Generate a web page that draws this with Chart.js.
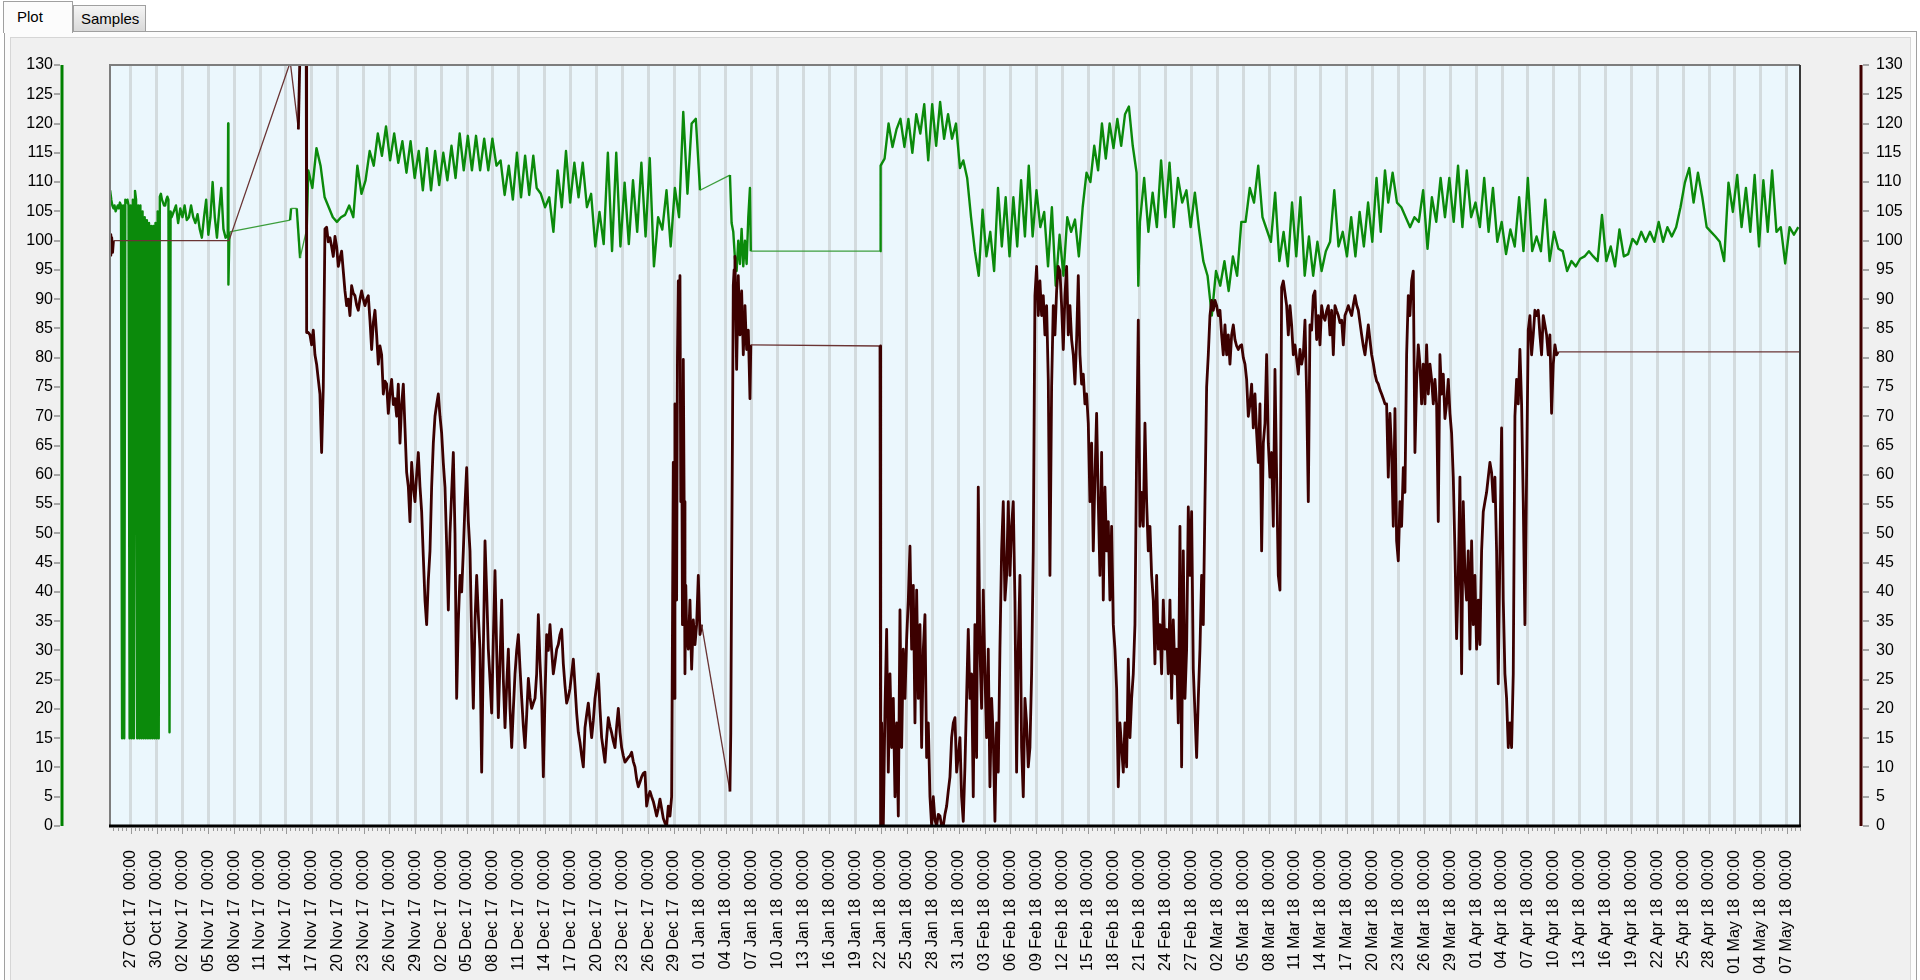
<!DOCTYPE html>
<html>
<head>
<meta charset="utf-8">
<title>Plot</title>
<script src="https://cdn.jsdelivr.net/npm/chart.js@4.4.1/dist/chart.umd.min.js"></script>
<style>
  html, body { margin: 0; padding: 0; }
  body { width: 1920px; height: 980px; overflow: hidden; position: relative; background: #fff;
         font-family: "Liberation Sans", Arial, sans-serif; }
  .page { position: absolute; left: 4px; top: 31px; width: 1913px; height: 960px; background: #fcfcfc;
          border: 1px solid #a0a0a0; box-sizing: border-box; }
  .group { position: absolute; left: 10px; top: 37px; width: 1901px; height: 950px; background: #f0f0f0;
           border: 1px solid #d6d6d6; box-sizing: border-box; }
  .tab { position: absolute; box-sizing: border-box; border: 1px solid #a0a0a0; border-bottom: none;
         font-size: 15px; color: #000; }
  .tab.on { left: 3px; top: 1px; width: 70px; height: 32px; background: #fcfcfc; padding: 6px 0 0 13px; z-index: 2; }
  .tab.off { left: 73px; top: 5px; width: 73px; height: 26px; padding: 4px 0 0 7px;
             background: linear-gradient(#f5f5f5, #d9d9d9); }
  #chart { position: absolute; left: 0; top: 0; z-index: 3; }
</style>
</head>
<body>
<div class="page"></div>
<div class="group"></div>
<div class="tab on">Plot</div>
<div class="tab off">Samples</div>
<canvas id="chart" width="1920" height="980"></canvas>

<script>
// x axis is in days counted from 27 Oct 17 00:00, labelled every 3 days
const tickLabels = ['27 Oct 17','30 Oct 17','02 Nov 17','05 Nov 17','08 Nov 17','11 Nov 17','14 Nov 17',
  '17 Nov 17','20 Nov 17','23 Nov 17','26 Nov 17','29 Nov 17','02 Dec 17','05 Dec 17','08 Dec 17','11 Dec 17',
  '14 Dec 17','17 Dec 17','20 Dec 17','23 Dec 17','26 Dec 17','29 Dec 17','01 Jan 18','04 Jan 18','07 Jan 18',
  '10 Jan 18','13 Jan 18','16 Jan 18','19 Jan 18','22 Jan 18','25 Jan 18','28 Jan 18','31 Jan 18','03 Feb 18',
  '06 Feb 18','09 Feb 18','12 Feb 18','15 Feb 18','18 Feb 18','21 Feb 18','24 Feb 18','27 Feb 18','02 Mar 18',
  '05 Mar 18','08 Mar 18','11 Mar 18','14 Mar 18','17 Mar 18','20 Mar 18','23 Mar 18','26 Mar 18','29 Mar 18',
  '01 Apr 18','04 Apr 18','07 Apr 18','10 Apr 18','13 Apr 18','16 Apr 18','19 Apr 18','22 Apr 18','25 Apr 18',
  '28 Apr 18','01 May 18','04 May 18','07 May 18'];
const tickTime = '00:00';
const tickEvery = 3;
const dayMin = -2.4, dayMax = 193.55;
const valueTicks = [0, 130, 5]; // min, max, step (both value axes)

// green trace (left axis). runs: values spread evenly from first day to last day
const greenA = [108,108.5,107,106,105.5,106,105,105.5,106,105.5,106.5,106,15,106,15,107,106.5,107,106,15,106,15,
  107,15,108.5,107,15,106,15,106,15,105,15,104,15,103.5,15,103,15,102.5,15,102.5,15,103,15,105,15,107.5,108,107,
  106.5,106,106,107,107.5,107,16,105,104,104.5,105];
const greenB = [106,103,105.5,104,106,103.5,104,106,104,103,104.5,102,100.5,104,107,101,104,110,104,100.5,105,109,
  102,100.5,101];
const greenJoin1 = [[11.3,120],[11.33,92.5],[11.45,101.5],[18.48,103.5],[18.6,105.5],[19.25,105.5],[19.64,97],[20.41,102]];
const greenC = [112,109,115.8,112.8,107.4,105.7,104,103.2,104,104.4,106,104,112.8,108,110.3,115.3,112.8,118.3,114.5,
  119.5,113.7,118.3,113.3,117,111.6,117,110.7,115.3,108.6,115.8,108.6,115.3,109.5,115,110.3,116.2,110.7,118.3,112,
  117.9,112,117.9,112,117.4,112,117.4,112.8,113.7,107.8,112.8,107,115,107.4,114.5,107.8,114.5];
const greenD = [109,108,105.7,107.4,101.5,112,105.7,115.3,106.5,113.3,107.4,113.3,105.7,108,99,104.9,99.4,115,98.2,
  115,99,109.9,99.4,110.3,101.5,113.3,100.7,114.1,95.6,104,101.9,108.6,99,109,104,122,108,120,120.8,108.6];
const greenE = [111.2,103,101.5,97,94.8,100,96,102,95.6,100,96,104,109];
const greenJoin2 = [[71.9,98.2],[86.88,98.2]];
const greenF = [112.8,114,120,116,119,120.8,116,120.8,115,121.6,118.3,123.3,113.7,123.3,116.2,123.7,117.4,121.6,
  117.4,120,112.4];
const greenG = [113.7,110.7,104,98.2,94,105.3,97.3,101.5,94.8,109,99,107.4,97.3,107.4,99,110.3,100.7,112.8,100.7,
  108.6,102.3,104.9,95.6,105.7,92.3,101,94,104,101.5,103.6,97.3,105.7,111.6,110,116.2,112,120,114,120,115.8,120.8,
  116.2,121.6,122.9,116.2,111.6];
const greenJoin3 = [[116.83,92.3]];
const greenH = [103.2,110.7,101.5,108.2,102.3,113.7,104,113.3,102.3,110.7,106.5,108.6,102.3,108.2,101.9,96.5,94,
  87.2,94.8,92.3,96.5,91.4,97.3,94,103.2,103.2,109,106.5,112.8,104,101.9,99.8,108.2,96.5,101.5,95.6,106.5,97.3,
  107.4,94,100.7,94,99.8,94.8,98.2,99.8,108.6,99,101.5,97.3,104,97.3,104.9,99,106.5,99.8,110.7,101.5,112];
const greenI = [106.5,111.6,106.5,105.7,104,102.3,104,103.2,108.6,98.6,107.4,103.2,110.7,104,110.7,103.2,112.8,
  102.3,112,104,106.5,102.3,110.7,101.5,109,99.8,103.2,97.7,101.9,99,107.4,98.2,110.7,98.2,100.7,98.2,107,96.5,
  101.5,98.6,98.2,94.8,96.5,95.6,96.9,97.3,98.2,97.3,96.5,104.4,96.5,99,95.6,101.9,97.3,97.7,100.3,99.4,101.5,99.8,
  101.5,99.8,103.2,99.8,102.3,100.7,102.3,105.7,109.9,112.4,106.5,111.6,107.4,102.3,101.5,100.7,99.8,96.5,109.9,
  104.9,111.2,102.3,109,101.5,111.2,99,110.3,101.5,112,101.5,102.3,96.1,102.3,101,102.3];

// maroon trace (right axis)
const maroonJoin0 = [[-2.4,101],[-2.3,97.5],[-2.2,100.5],[-2.1,98],[-2.0,100],[11.4,100],[18.5,130.5],[19.44,119],
  [19.68,136],[20.35,136],[20.4,84.3]];
const maroonA = [84.3,83.9,82.2,84.7,80.5,78.9,76.3,73.8,63.8,75, 102,102.3,99.8,100.5,99,97.3,100.7,99,95.6,97,
  98.2,94.8,91.4,88.9,90,87.2,92.3,91,90.6,89, 88.1,90,91.4,90,88.9,90,90.6,86.4,81.4,86,
  88.1,83.9,78.9,82,80.5,73.8,76,75.5,70.5,74, 76.3,72,73,70,75.5,65.4,72,75.5,68,60.4,
  58,52,62.1,58,55.4,60,63.8,58,53.7,46, 38.6,34.4,42,47,58,65.4,70,72,73.8,70,
  67.1,62,57.9,48,36.9,50,57,63.8,50,21.8, 35,42.8,40,47,55,61.2,52,47,32,20.1,
  35,42.8,36,30.2,9.2,30,48.7,40,30.2,25, 19.3,32,43.6,30,18.5,28,38.6,25,16.8,24,
  30.2,20,13.4,20,26,30,32.7,27,21.8,17, 13.4,19,25.2,22,20.1,21,21.8];
const maroonB = [26,36.1,28,21.8,8.4,22,32.7,30,34.4,30, 26,28,30.2,31,32.7,33.6,27.7,24,21,22,
  23.5,26,28.5,24,19.3,16,14.3,12,10.1,16.8, 19,21,18,15.1,18,21.8,24,26,20,15.1,
  13,10.9,15,18.5,17,15.9,14.5,13.4,17,20.1, 16,13.4,12,10.9,11.3,11.7,12,12.6,11,10.1,
  8,6.7,7.5,8.4,9,9.2,3.4,5,5.9,5, 4.2,3,1.7,3,4.6,3,1.3,0.5,0,3.4, 1.7,5];
const maroonC = [62.1,21.8,72.1,60,38.6,80,93.1,80.5,94,55.4,72.1,34.4,79.7,55.4,26,41.1,33];
const maroonD = [30.2,38.6,26.8,35.2,31,34.4,42.8,32.7,34.4];
const maroonE = [5.9,15.9,42.8,66.3,92.3,95,97.3,88,78,86,94,88,83.9,88,91.4,86,80.5,85,88.9,85,81.4,83,84.7,79,73,82.2];
const maroonJoin1 = [[86.88,82],[86.95,0]];
const maroonF = [17.6,0,20,33.6,9.2,26,13.4,21.8,5,17.6, 1.7,36.9,13.4,30.2,21.8,31.9,38.6,47.8,30.2,41.1,
  17.6,40.3,21.8,34.4,13.4,30.2,36.1,11.7,17.6,5, 0,5,1,0,2,1.7,0,0,2,3.4, 6,8.4,15.1,17.6,18.5,9.2,12,15.1];
const maroonG = [5,0.8,10.1,22,33.6,21.8,26,5,34.4,11.7, 57.9,30.2,20.1,40.3,26,15.1,30.2,6.7,21.8,15.1,
  0.8,17.6,9.2,30.2,47,55.4,38.6,42.8,55.4,42.8, 51.2,55.4,38.6,9.2,30.2,42.8,13.4,5,21.8,17.6,
  10.1,13.4,26,47,90.6,95.6,87.2,93.1,87.2,90.6, 83.9,88.9,76.3,42.8,75,88.9,83.9,91.4,95.6,94.8,
  88.9,81.4,90.6,95.6,83.9,88.9,83.1,80.5,75.5,83.1, 94,80.5,75.5,77.2,72.1,73.8,68.8,55.4,65.4,47,
  59.6,70.5,55.4,42.8,63.8,38.6,57.9,47,52,38.6, 51.2,34.4,30.2,23.5,6.7,17.6,13.4,9.2,17.6,10.1,
  28.5,15.1,21.8,26,34.4,63.8,86.4,51.2,57,51.2, 68.8,55.4,47,51.2,42.8,38.6,27.7,42.8,30.2,34.4,
  26,38.6,30.2,33.6,26,38.6,21.8,35.2,26,30.2, 17.6,51.2,10.1,47,21.8,30.2,54.5,42.8,53.7,26.8,
  19.3,11.7,21.8,30.2,42.8,34.4,55.4,75,80.5,87.2, 89.8,88.1,89.8,88.9,87.2,88.1,83.9,80.5,85.6,80.5,
  83.9,78.9,83.9,85.6,83.1,82,81.4,82,82.2,80, 78.9,76.3,70,72.1,75.5,68,73.8,67.1,62.1,72.1,
  47,65.4,68.8,80.5,65.4,59.6,63.8,51.2,78,59.6, 42.8,40.3,92,93.1,91,88.9,83.9,88.9,85.6,80.5,
  82.2,79.7,77.2,81.4,78.9,80.5,86.4,73.8,55.4,85.6, 84.7,90.6,91.4,83.1,87.2,82.2,88.9,87,86.4,88,
  88.9,83.9,88.1,80.5,88.9,88,87.2,86,86.4,82.2, 87.2,88,88.9,88,87.2,89,90.6,89,88.1,86,
  83.9,82,80.5,83,85.6,83,80.5,79,77.2,76, 75.5,74.5,73.8,73,72.1];
const maroonH = [72.1,59.6,70.5,63.8,51.2,71.3,48.7,45.3,55.4,51.2, 61.2,57,80.5,90.6,87.2,93.1,94.8,63.8,76,82.2,
  78.9,72.1,78.9,72.1,82.2,73.8,78.9,76.3,72.1,76.3, 72.1,52,80.5,73.8,77.2,69.6,72.1,76.3,70.5,67.1,
  59.6,47,32,42.8,59.6,26,55.4,42.8,38.6,47, 30.2,48.7,34.4,42.8,30.2,38.6,31,47,53.7,55.4,
  57,59.6,62.1,60.4,55.4,59.6,47,24.3,47,68, 38.6,26,21.8,13.4,17.6,13.4,26,70,76.3,72.1,
  81.4,72.1,55.4,34.4,60,84.7,87.2,80.5,83.9,88.1, 87.2,88.1,83.9,80.5,87.2,85.6,83.9,80.5,83.9,70.5,
  78.9,82.2,80.5,81];
const maroonEnd = [[193.55,81]];

function run(first, last, values) {
  const step = (last - first) / (values.length - 1);
  return values.map((v, i) => ({ x: first + i * step, y: v }));
}
function pairs(list) {
  return list.map(([x, y]) => ({ x, y }));
}

const greenPoints = [
  ...run(-2.5, 5.0, greenA),
  ...run(5.25, 11.25, greenB),
  ...pairs(greenJoin1),
  ...run(20.59, 46.68, greenC),
  ...run(47.07, 66.01, greenD),
  ...run(69.48, 71.8, greenE),
  ...pairs(greenJoin2),
  ...run(86.95, 96.15, greenF),
  ...run(96.54, 116.63, greenG),
  ...pairs(greenJoin3),
  ...run(117.02, 145.43, greenH),
  ...run(145.81, 193.35, greenI),
];
const maroonPoints = [
  ...pairs(maroonJoin0),
  ...run(20.59, 46.88, maroonA),
  ...run(47.07, 62.72, maroonB),
  ...run(62.91, 64.46, maroonC),
  ...run(64.65, 66.2, maroonD),
  ...run(69.48, 71.9, maroonE),
  ...pairs(maroonJoin1),
  ...run(87.07, 96.15, maroonF),
  ...run(96.34, 145.43, maroonG),
  ...run(145.62, 165.52, maroonH),
  ...pairs(maroonEnd),
];

const GREEN = '#0b8a0b';
const MAROON = '#3c0000';

// long straight stretches are gaps in the log, the original draws them thin
const isGap = ctx => ctx.p1.parsed.x - ctx.p0.parsed.x > 0.6;

function sideAxis(ctx, scale, x, dir, color) {
  ctx.strokeStyle = '#a6a6a6';
  ctx.lineWidth = 2;
  for (const t of scale.ticks) {
    const y = Math.round(scale.getPixelForValue(t.value));
    ctx.beginPath();
    ctx.moveTo(x + dir * 2, y);
    ctx.lineTo(x + dir * 8, y);
    ctx.stroke();
  }
  ctx.strokeStyle = color;
  ctx.lineWidth = 3;
  ctx.beginPath();
  ctx.moveTo(x, scale.top);
  ctx.lineTo(x, scale.bottom);
  ctx.stroke();
}

const chrome = {
  id: 'chrome',
  beforeDraw(chart) {
    const { ctx, chartArea: a } = chart;
    ctx.save();
    ctx.fillStyle = '#ebf7fd';
    ctx.fillRect(a.left, a.top, a.right - a.left, a.bottom - a.top);
    ctx.restore();
  },
  afterDraw(chart) {
    const { ctx, chartArea: a, scales } = chart;
    ctx.save();
    // frame
    ctx.lineWidth = 2;
    ctx.strokeStyle = '#7d7d7d';
    ctx.beginPath();
    ctx.moveTo(a.left, a.bottom);
    ctx.lineTo(a.left, a.top);
    ctx.lineTo(a.right, a.top);
    ctx.stroke();
    ctx.strokeStyle = '#3a3a3a';
    ctx.beginPath();
    ctx.moveTo(a.right, a.top);
    ctx.lineTo(a.right, a.bottom);
    ctx.stroke();
    ctx.lineWidth = 3;
    ctx.strokeStyle = '#000';
    ctx.beginPath();
    ctx.moveTo(a.left - 1, a.bottom);
    ctx.lineTo(a.right + 1, a.bottom);
    ctx.stroke();

    // half-day ticks under the time axis
    const xs = scales.x;
    ctx.lineWidth = 1;
    ctx.strokeStyle = '#999';
    for (let d = Math.ceil(xs.min * 2) / 2; d <= xs.max; d += 0.5) {
      const px = Math.round(xs.getPixelForValue(d)) + 0.5;
      const major = Math.abs(d / tickEvery - Math.round(d / tickEvery)) < 1e-6;
      ctx.beginPath();
      ctx.moveTo(px, a.bottom + 2);
      ctx.lineTo(px, a.bottom + (major ? 8 : 5));
      ctx.stroke();
    }

    sideAxis(ctx, scales.yL, a.left - 48, -1, '#008000');
    sideAxis(ctx, scales.yR, a.right + 61, 1, '#400000');
    ctx.restore();
  }
};

Chart.defaults.font.family = '"Liberation Sans", Arial, sans-serif';
Chart.defaults.color = '#000';

const valueAxis = (position, padding, width) => ({
  type: 'linear',
  position: position,
  min: valueTicks[0],
  max: valueTicks[1],
  grid: { display: false, drawTicks: false },
  border: { display: false },
  ticks: { stepSize: valueTicks[2], autoSkip: false, padding: padding, font: { size: 16 }, color: '#000' },
  // the big label padding must not push the plot down
  afterFit: s => { s.width = width; s.paddingTop = 0; s.paddingBottom = 0; }
});

new Chart(document.getElementById('chart'), {
  type: 'line',
  data: {
    datasets: [
      {
        data: maroonPoints,
        yAxisID: 'yR',
        borderColor: MAROON,
        borderWidth: 2.8,
        borderJoinStyle: 'round',
        pointRadius: 0,
        segment: {
          borderWidth: c => (isGap(c) ? 1.3 : 2.8),
          borderColor: c => (isGap(c) ? '#6a3434' : MAROON)
        }
      },
      {
        data: greenPoints,
        yAxisID: 'yL',
        borderColor: GREEN,
        borderWidth: 2.4,
        borderJoinStyle: 'round',
        pointRadius: 0,
        segment: {
          borderWidth: c => (isGap(c) ? 1.3 : 2.4),
          borderColor: c => (isGap(c) ? '#3c9e3c' : GREEN)
        }
      }
    ]
  },
  options: {
    responsive: false,
    animation: false,
    devicePixelRatio: 1,
    parsing: false,
    layout: { padding: { top: 65, left: 0, right: 0, bottom: 0 } },
    plugins: { legend: { display: false }, tooltip: { enabled: false } },
    elements: { line: { tension: 0 } },
    scales: {
      x: {
        type: 'linear',
        min: dayMin,
        max: dayMax,
        grid: { color: '#d3dbde', lineWidth: 3, drawTicks: false },
        border: { display: false },
        afterBuildTicks: s => { s.ticks = tickLabels.map((_, i) => ({ value: i * tickEvery })); },
        ticks: {
          autoSkip: false,
          minRotation: 90,
          maxRotation: 90,
          padding: 24,
          font: { size: 16 },
          color: '#000',
          callback: v => tickLabels[Math.round(v / tickEvery)] + '  ' + tickTime
        },
        afterFit: s => { s.height = 154; }
      },
      yL: valueAxis('left', 57, 110),
      yR: valueAxis('right', 76, 120)
    }
  },
  plugins: [chrome]
});
</script>
</body>
</html>
